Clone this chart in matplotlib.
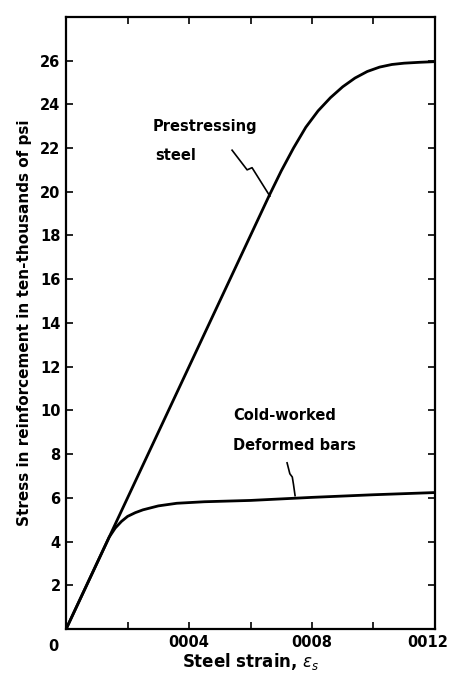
import numpy as np
import matplotlib.pyplot as plt
import matplotlib.transforms as mtransforms

# Stress-strain readings (strain, stress in ten-thousands of psi)
prestress_strain = [0.0, 0.00066, 0.00070, 0.00074, 0.00078, 0.00082, 0.00086,
                    0.00090, 0.00094, 0.00098, 0.00102, 0.00106, 0.00110,
                    0.00115, 0.0012]
prestress_stress = [0.0, 19.8, 20.95, 22.0, 22.95, 23.7, 24.3,
                    24.8, 25.2, 25.5, 25.7, 25.82, 25.88,
                    25.92, 25.95]

coldwork_strain = [0.0, 0.00014, 0.00016, 0.00018, 0.0002, 0.000225, 0.00025,
                   0.0003, 0.00036, 0.00045, 0.0006, 0.0008, 0.001, 0.0012]
coldwork_stress = [0.0, 4.2, 4.62, 4.92, 5.15, 5.32, 5.45,
                   5.63, 5.75, 5.82, 5.88, 6.02, 6.14, 6.24]

x_ticks = [0.0002, 0.0004, 0.0006, 0.0008, 0.001, 0.0012]
x_labels = ["", "0004", "", "0008", "", "0012"]
y_ticks = [2, 4, 6, 8, 10, 12, 14, 16, 18, 20, 22, 24, 26]

# leader lines from labels to curves
pre_leader_x = [0.00054, 0.000589, 0.000605, 0.000663]
pre_leader_y = [21.9, 21.0, 21.1, 19.8]
cw_leader_x = [0.000719, 0.000728, 0.000736, 0.00074, 0.000745]
cw_leader_y = [7.6, 7.1, 6.95, 6.6, 6.1]

plt.rcParams['font.family'] = ['DejaVu Sans']

fig = plt.figure(figsize=(4.53, 6.73), dpi=100)
ax = fig.add_axes([0.146, 0.0654, 0.814, 0.9096])

ax.plot(prestress_strain, prestress_stress, color="black", lw=2.0,
        solid_capstyle="round", solid_joinstyle="round")
ax.plot(coldwork_strain, coldwork_stress, color="black", lw=2.0,
        solid_capstyle="round", solid_joinstyle="round")
ax.plot(pre_leader_x, pre_leader_y, color="black", lw=1.2)
ax.plot(cw_leader_x, cw_leader_y, color="black", lw=1.2)

ax.set_xlim(0, 0.0012)
ax.set_ylim(0, 28)

ax.set_xticks(x_ticks)
ax.set_xticklabels(x_labels)
ax.set_yticks(y_ticks)
ax.set_yticklabels([str(v) for v in y_ticks])
ax.tick_params(direction="in", length=5, width=1.2, labelsize=10.5,
               top=True, right=True, pad=4)
for lbl in ax.get_xticklabels() + ax.get_yticklabels():
    lbl.set_fontweight("bold")
for s in ax.spines.values():
    s.set_linewidth(1.6)

# last strain label sits flush with the right edge
last = ax.get_xticklabels()[-1]
last.set_transform(last.get_transform() +
                   mtransforms.ScaledTranslation(-5 / 72, 0, fig.dpi_scale_trans))

# shared zero at the corner
ax.text(-0.000042, -0.45, "0", ha="center", va="top", fontsize=10.5,
        fontweight="bold")

ax.text(0.000283, 23.0, "Prestressing", ha="left", va="center",
        fontsize=10.5, fontweight="bold")
ax.text(0.00029, 21.65, "steel", ha="left", va="center",
        fontsize=10.5, fontweight="bold")
ax.text(0.000543, 9.75, "Cold-worked", ha="left", va="center",
        fontsize=10.5, fontweight="bold")
ax.text(0.000543, 8.38, "Deformed bars", ha="left", va="center",
        fontsize=10.5, fontweight="bold")

ax.set_xlabel(r"Steel strain, $\epsilon_s$", fontsize=12,
              fontweight="bold", labelpad=1)
ax.set_ylabel("Stress in reinforcement in ten-thousands of psi",
              fontsize=11, fontweight="bold", labelpad=6)

fig.savefig("out.png", dpi=100)
